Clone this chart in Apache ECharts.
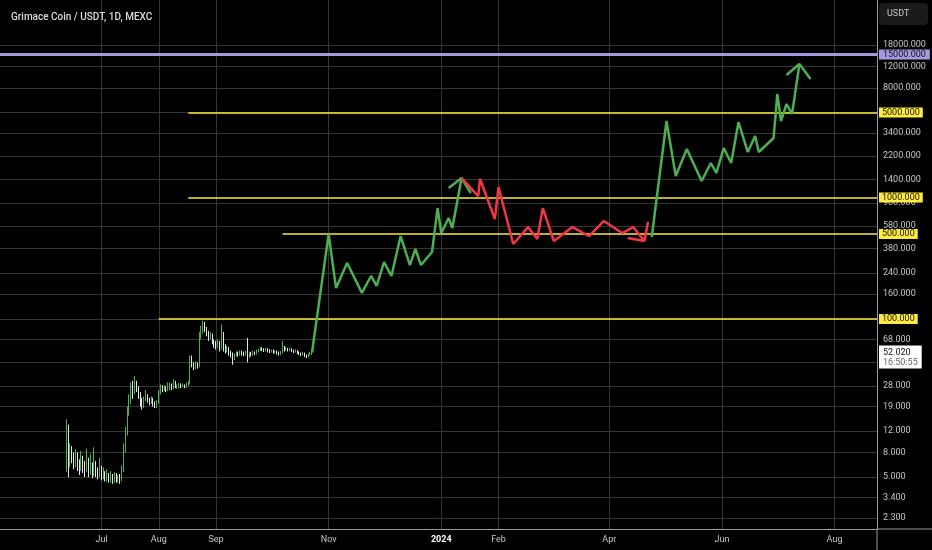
<!DOCTYPE html>
<html>
<head>
    <meta charset="utf-8">
    <title>Grimace Coin / USDT, 1D, MEXC</title>
    <script src="https://cdn.jsdelivr.net/npm/echarts@6/dist/echarts.min.js"></script>
    <style>
        html, body { margin: 0; padding: 0; background: #000; }
        #chart { width: 932px; height: 550px; }
    </style>
</head>
<body>
<div id="chart"></div>
<script type="text/javascript">
    // axis range (daily categories)
    var firstDay = '2023-05-07';
    var lastDay = '2024-08-24';

    // daily candles from 2023-06-12, [open, close, low, high]
    var candleStart = '2023-06-12';
    var candles = [
        [9, 13, 5.5, 15], [13, 7, 5, 13.5], [7, 8.5, 6, 9.5], [8.5, 7.2, 6.5, 9],
        [7.2, 6.5, 5.8, 8], [6.5, 7.5, 6, 8.5], [7.5, 6.4, 5.6, 8], [6.4, 6.0, 5.2, 7],
        [6.0, 7.0, 5.6, 8.2], [7.0, 6.2, 5.4, 7.5], [6.2, 5.8, 5.0, 6.8], [5.8, 6.8, 5.5, 8.6],
        [6.8, 5.6, 5.0, 7.2], [5.6, 6.2, 5.2, 7.8], [6.2, 5.4, 4.9, 6.6], [5.4, 6.4, 5.1, 8.8],
        [6.4, 5.5, 5.0, 6.8], [5.5, 5.2, 4.8, 6.0], [5.2, 5.8, 5.0, 7.2],
        // July
        [5.8, 5.1, 4.7, 6.2], [5.1, 5.4, 4.8, 6.0], [5.4, 4.9, 4.6, 5.6], [4.9, 5.2, 4.6, 5.8],
        [5.2, 4.8, 4.5, 5.4], [4.8, 5.0, 4.5, 5.6], [5.0, 4.7, 4.4, 5.3], [4.7, 5.0, 4.5, 5.5],
        [5.0, 4.8, 4.5, 5.4], [4.8, 4.9, 4.5, 5.2], [4.9, 4.7, 4.4, 5.3], [4.7, 5.6, 4.6, 6.2],
        [5.6, 8.5, 5.5, 9.5], [8.5, 12, 8, 13], [12, 17, 11, 19], [17, 21, 16, 24],
        [21, 26, 20, 30], [26, 25, 22, 31], [25, 29, 24, 34], [29, 27, 25, 31],
        [27, 24, 22, 28], [24, 21, 19, 25], [21, 19, 18, 22.5], [19, 22, 18.5, 23],
        [22, 23.5, 21, 26], [23.5, 21.5, 20.5, 24], [21.5, 20.5, 19.5, 22.5], [20.5, 22, 20, 23],
        [22, 20, 19, 22.5], [20, 19.5, 18.5, 21], [19.5, 20.5, 18.5, 21.5],
        // August
        [20.5, 25, 20, 26], [25, 27, 24, 29], [27, 26, 25, 28.5], [26, 27.5, 25.5, 28.5],
        [27.5, 26.5, 25, 28], [26.5, 27, 25.5, 30], [27, 28.5, 26, 30], [28.5, 27, 26, 29.5],
        [27, 29, 26.5, 32], [29, 27.5, 27, 31], [27.5, 28, 26.5, 29], [28, 29, 27, 30],
        [29, 28, 27, 29.5], [28, 28.5, 27.5, 29.5], [28.5, 27.5, 27, 29], [27.5, 28.5, 27, 30],
        [28.5, 29.5, 28, 31], [29.5, 47, 29, 50], [47, 42, 40, 50], [42, 40, 38, 44],
        [40, 43, 38.5, 45], [43, 41, 39, 44], [41, 72, 40, 78], [72, 80, 68, 88],
        [80, 90, 76, 97], [90, 82, 78, 95], [82, 76, 72, 86], [76, 70, 66, 80],
        [70, 74, 68, 78], [74, 66, 62, 76], [66, 62, 58, 68],
        // September
        [62, 60, 56, 66], [60, 64, 58, 68], [64, 58, 54, 66], [58, 70, 56, 90],
        [70, 60, 54, 78], [60, 56, 52, 62], [56, 58, 53, 60], [58, 53, 50, 59],
        [53, 51, 48, 55], [51, 47, 42, 53], [47, 50, 46, 52], [50, 52, 49, 54],
        [52, 51, 49, 54], [51, 53, 50, 55], [53, 52, 50, 55], [52, 51.5, 49.5, 54],
        [51.5, 53, 50, 55], [53, 50, 44, 70], [50, 52, 48, 54], [52, 51, 49, 53.5],
        [51, 53, 50, 55], [53, 52, 50.5, 54], [52, 54, 51, 56], [54, 55, 53, 57],
        [55, 57, 54, 59], [57, 56, 54.5, 58.5], [56, 55, 53.5, 57.5], [55, 56.5, 54, 58],
        [56.5, 55, 53, 57.5], [55, 54, 52.5, 56.5],
        // October
        [54, 55, 53, 56], [55, 53.5, 52, 56], [53.5, 54, 52, 55.5], [54, 52.5, 51, 55],
        [52.5, 51.5, 50, 54], [51.5, 53, 50.5, 54.5], [53, 58, 52, 66], [58, 56, 54, 60],
        [56, 57, 55, 59], [57, 55.5, 54, 58], [55.5, 56.5, 54.5, 58], [56.5, 55, 53.5, 57.5],
        [55, 54, 52.5, 56], [54, 55, 53, 56.5], [55, 53, 51.5, 55.5], [53, 52, 50.5, 54],
        [52, 51, 49.5, 53], [51, 52, 50, 53.5], [52, 50, 48.5, 53], [50, 49, 47.5, 51],
        [49, 51, 48.5, 52], [51, 52, 50, 53.5], [52, 52.02, 50.5, 53.5]
    ];

    // drawn projection
    var greenPath1 = [
        ['2023-10-23', 53], ['2023-11-01', 500], ['2023-11-05', 180], ['2023-11-11', 289],
        ['2023-11-19', 164], ['2023-11-24', 226], ['2023-11-27', 187], ['2023-12-01', 294],
        ['2023-12-05', 226], ['2023-12-10', 482], ['2023-12-15', 278], ['2023-12-18', 377],
        ['2023-12-21', 278], ['2023-12-27', 356], ['2023-12-30', 819], ['2024-01-01', 510],
        ['2024-01-05', 678], ['2024-01-07', 561], ['2024-01-12', 1446]
    ];
    var greenArrow1 = [['2024-01-05', 1197], ['2024-01-12', 1446], ['2024-01-17', 1089]];
    var redPath = [
        ['2024-01-12', 1446], ['2024-01-21', 1028], ['2024-01-22', 1420], ['2024-01-30', 665],
        ['2024-02-01', 1219], ['2024-02-09', 414], ['2024-02-17', 571], ['2024-02-22', 455],
        ['2024-02-25', 819], ['2024-03-02', 438], ['2024-03-12', 571], ['2024-03-21', 482],
        ['2024-03-29', 640], ['2024-04-08', 510], ['2024-04-14', 571], ['2024-04-20', 438]
    ];
    var redArrow = [['2024-04-11', 464], ['2024-04-20', 438], ['2024-04-22', 629]];
    var greenPath2 = [
        ['2024-04-24', 473], ['2024-05-02', 4260], ['2024-05-07', 1503], ['2024-05-13', 2506],
        ['2024-05-21', 1367], ['2024-05-26', 1922], ['2024-05-29', 1591], ['2024-06-02', 2553],
        ['2024-06-06', 1922], ['2024-06-10', 4180], ['2024-06-15', 2367], ['2024-06-19', 3206],
        ['2024-06-21', 2367], ['2024-06-29', 3088], ['2024-07-01', 7110], ['2024-07-03', 4260],
        ['2024-07-06', 5880], ['2024-07-09', 4866], ['2024-07-13', 12560]
    ];
    var greenArrow2 = [['2024-07-06', 10190], ['2024-07-13', 12560], ['2024-07-19', 9440]];

    // horizontal levels
    var levelValues = [100, 500, 1000, 5000];
    var levelStarts = ['2023-08-01', '2023-10-07', '2023-08-17', '2023-08-17'];
    var topLevel = 15000;
    var lastPrice = 52.02;
    var lastTime = '16:50:55';

    // price scale ticks and month labels
    var yTicks = [2.3, 3.4, 5, 8, 12, 19, 28, 44, 68, 100, 160, 240, 380, 580, 900, 1400, 2200, 3400, 5000, 8000, 12000, 18000];
    var yMin = 1.87, yMax = 42200;
    var monthTicks = ['2023-07-01', '2023-08-01', '2023-09-01', '2023-11-01', '2024-01-01', '2024-02-01', '2024-04-01', '2024-06-01', '2024-08-01'];
    var monthNames = ['Jan', 'Feb', 'Mar', 'Apr', 'May', 'Jun', 'Jul', 'Aug', 'Sep', 'Oct', 'Nov', 'Dec'];

    var GREEN = '#4caf50', RED = '#f23645', YELLOW = '#ffeb3b', PURPLE = '#a39ae2', GRID = '#363636';

    function lg(v) { return Math.log10(v); }
    function pad(n) { return n < 10 ? '0' + n : '' + n; }
    function fmtDay(t) {
        var d = new Date(t);
        return d.getUTCFullYear() + '-' + pad(d.getUTCMonth() + 1) + '-' + pad(d.getUTCDate());
    }
    function fmtPrice(v) { return v.toFixed(3); }

    // category list
    var days = [];
    var t = Date.parse(firstDay + 'T00:00:00Z'), tEnd = Date.parse(lastDay + 'T00:00:00Z');
    for (; t <= tEnd; t += 86400000) days.push(fmtDay(t));

    var candleData = days.map(function () { return '-'; });
    var c0 = days.indexOf(candleStart);
    candles.forEach(function (c, i) {
        candleData[c0 + i] = [lg(c[0]), lg(c[1]), lg(c[2]), lg(c[3])];
    });

    function toLog(path) { return path.map(function (p) { return [p[0], lg(p[1])]; }); }
    function pathSeries(path, color) {
        return {
            type: 'line', data: toLog(path), showSymbol: false, symbol: 'none',
            lineStyle: {color: color, width: 2.5}, z: 5, silent: true
        };
    }

    var isMonth = function (index, value) { return monthTicks.indexOf(value) >= 0; };

    var levelLines = levelValues.map(function (v, i) {
        return [
            {coord: [levelStarts[i], lg(v)], lineStyle: {color: YELLOW, width: 1.6, type: 'solid'},
                label: {formatter: fmtPrice(v), backgroundColor: YELLOW}},
            {coord: [lastDay, lg(v)]}
        ];
    });
    levelLines.push([
        {coord: [firstDay, lg(topLevel)], lineStyle: {color: PURPLE, width: 3, type: 'solid'},
            label: {formatter: fmtPrice(topLevel), backgroundColor: PURPLE, padding: [1, 4, 0, 4]}},
        {coord: [lastDay, lg(topLevel)]}
    ]);

    var myChart = echarts.init(document.getElementById('chart'));
    myChart.setOption({
        backgroundColor: '#000',
        animation: false,
        textStyle: {fontFamily: 'Roboto, sans-serif'},
        title: {
            text: 'Grimace Coin / USDT, 1D, MEXC',
            left: 6, top: 7,
            textStyle: {color: '#dcdcdc', fontSize: 10, fontWeight: 500, fontFamily: 'Roboto'}
        },
        grid: {left: 0, right: 55, top: 0, bottom: 21, containLabel: false},
        xAxis: {
            type: 'category', data: days, boundaryGap: false,
            axisLine: {lineStyle: {color: '#9a9a9a', width: 1}},
            axisTick: {show: false},
            axisLabel: {
                interval: isMonth, color: '#c8c8c8', fontSize: 9, margin: 6,
                formatter: function (v) {
                    var m = +v.slice(5, 7);
                    if (m === 1) return '{y|' + v.slice(0, 4) + '}';
                    return monthNames[m - 1];
                },
                rich: {y: {color: '#ffffff', fontWeight: 'bold', fontSize: 9}}
            },
            splitLine: {show: true, interval: isMonth, lineStyle: {color: GRID, width: 1}}
        },
        yAxis: {
            type: 'value', position: 'right', min: lg(yMin), max: lg(yMax), scale: true,
            axisLine: {show: true, lineStyle: {color: '#9a9a9a', width: 1}},
            axisTick: {show: false, customValues: yTicks.map(lg)},
            axisLabel: {
                customValues: yTicks.map(lg), color: '#c8c8c8', fontSize: 9, margin: 6,
                formatter: function (v) { return fmtPrice(Math.pow(10, v)); }
            },
            splitLine: {show: true, lineStyle: {color: GRID, width: 1}}
        },
        graphic: [
            {type: 'line', shape: {x1: 877, y1: 529, x2: 932, y2: 529}, style: {stroke: '#9a9a9a', lineWidth: 1}},
            {type: 'line', shape: {x1: 877, y1: 529, x2: 877, y2: 550}, style: {stroke: '#9a9a9a', lineWidth: 1}},
            {type: 'rect', shape: {x: 879, y: 3, width: 49, height: 22, r: 4}, style: {fill: '#1b1b1b'}},
            {type: 'text', left: 887, top: 9, style: {text: 'USDT', fill: '#c8c8c8', font: '9px Roboto'}}
        ],
        series: [
            {
                type: 'candlestick', data: candleData, barWidth: 1.3, z: 3, silent: true,
                itemStyle: {color: GREEN, color0: '#e6e6e6', borderColor: GREEN, borderColor0: '#e6e6e6', borderWidth: 1},
                markLine: {
                    silent: true, symbol: ['none', 'none'],
                    lineStyle: {color: 'rgba(0,0,0,0)', width: 1, type: 'solid'},
                    label: {
                        show: true, position: 'end', distance: 2,
                        formatter: '{p|' + fmtPrice(lastPrice) + '}\n{t|' + lastTime + '}',
                        backgroundColor: '#ffffff', padding: [2, 4, 1, 4], offset: [0, 4],
                        rich: {
                            p: {color: '#111', fontSize: 9, lineHeight: 10},
                            t: {color: '#666', fontSize: 9, lineHeight: 10}
                        }
                    },
                    data: [{yAxis: lg(lastPrice)}]
                }
            },
            {
                type: 'line', data: [], z: 4, silent: true,
                markLine: {
                    silent: true, symbol: ['none', 'none'],
                    label: {show: true, position: 'end', distance: 2, color: '#111', fontSize: 9, padding: [1, 3, 0, 3]},
                    data: levelLines
                }
            },
            pathSeries(greenPath1, GREEN),
            pathSeries(greenArrow1, GREEN),
            pathSeries(redPath, RED),
            pathSeries(redArrow, RED),
            pathSeries(greenPath2, GREEN),
            pathSeries(greenArrow2, GREEN)
        ]
    });
</script>
</body>
</html>
